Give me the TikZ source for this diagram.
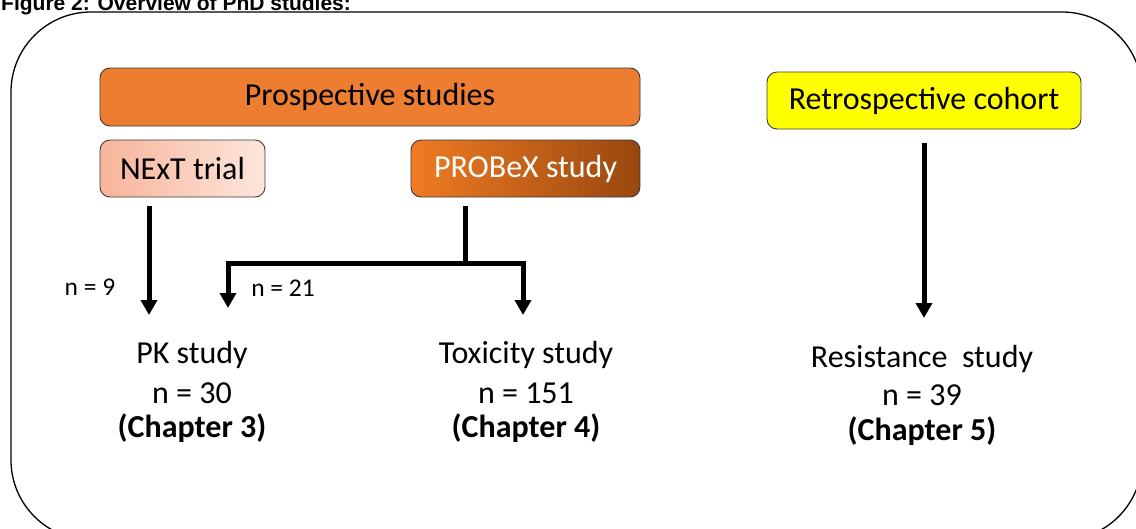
\documentclass[tikz,border=0pt]{standalone}
\usepackage{fontspec}
\setmainfont{Carlito}
\newfontfamily\titlefont{Liberation Sans}
\usetikzlibrary{arrows.meta}
\definecolor{orangeA}{HTML}{ED7D31}
\definecolor{salmonA}{HTML}{F7B49A}
\definecolor{salmonB}{HTML}{FDE6DD}
\definecolor{probA}{HTML}{F07B22}
\definecolor{probB}{HTML}{98470F}
\definecolor{yellowA}{HTML}{FFFF00}
\definecolor{edgeA}{HTML}{3A3A3A}
\tikzset{
  boxbase/.style={draw=edgeA, line width=0.9pt, rounded corners=10pt, inner sep=0pt,
    minimum height=57pt, font=\fontsize{32}{38}\selectfont},
  bigtxt/.style={anchor=base, inner sep=0pt, font=\fontsize{32}{38}\selectfont},
  bigbold/.style={anchor=base, inner sep=0pt, font=\fontsize{32}{38}\selectfont\bfseries},
  smalltxt/.style={inner sep=0pt, font=\fontsize{25.5}{30}\selectfont},
  arr/.style={line width=5pt, -{Triangle[width=16pt,length=15pt]}},
  plainline/.style={line width=5pt}
}
\begin{document}
\begin{tikzpicture}[x=1pt,y=-1pt]
\useasboundingbox (0,0) rectangle (1136,528);
\clip (0,0) rectangle (1136,528);
\fill[white] (0,0) rectangle (1136,528);
% outer frame
\draw[line width=1.3pt, rounded corners=80pt] (11,12) rectangle (1142,540);
% title
\node[anchor=base west, inner sep=0pt, font=\titlefont\bfseries\fontsize{21}{25}\selectfont] (title) at (1,10) {Figure 2: Overview of PhD studies:};
% boxes
\node[boxbase, fill=orangeA, minimum width=540pt, minimum height=58pt] (prosp) at (370,97) {Prospective studies};
\node[boxbase, left color=salmonA, right color=salmonB, minimum width=165pt] (next) at (182.5,168.5) {NExT trial};
\node[boxbase, left color=probA, right color=probB, minimum width=229pt, text=white] (probex) at (525.5,168.5) {PROBeX study};
\node[boxbase, fill=yellowA, minimum width=314pt] (retro) at (924,100.5) {Retrospective cohort};
% result texts
\node[bigtxt] (pk1) at (192,363) {PK study};
\node[bigtxt] (pk2) at (192,403) {n = 30};
\node[bigbold] (pk3) at (192,437) {(Chapter 3)};
\node[bigtxt] (tx1) at (526,363) {Toxicity study};
\node[bigtxt] (tx2) at (526,403) {n = 151};
\node[bigbold] (tx3) at (526,437) {(Chapter 4)};
\node[bigtxt] (rs1) at (922,367) {Resistance\ \ study};
\node[bigtxt] (rs2) at (922,405) {n = 39};
\node[bigbold] (rs3) at (922,440) {(Chapter 5)};
% connector coordinates
\coordinate (nexttop) at (149,206);
\coordinate (nexttip) at (149,315);
\coordinate (probtop) at (465,206);
\coordinate (split) at (465,263);
\coordinate (leftcorner) at (228,263);
\coordinate (rightcorner) at (523,263);
\coordinate (lefttip) at (228,308);
\coordinate (righttip) at (523,315);
\coordinate (retrotop) at (924,143);
\coordinate (retrotip) at (924,318);
% connectors
\draw[arr] (nexttop) -- (nexttip);
\draw[plainline] (probtop) -- (split);
\draw[arr] ([yshift=-2.5pt]rightcorner) -- (righttip);
\draw[plainline] ([xshift=2.5pt]rightcorner) -- ([xshift=-2.5pt]leftcorner);
\draw[arr] ([yshift=-2.5pt]leftcorner) -- (lefttip);
\draw[arr] (retrotop) -- (retrotip);
% labels
\node[smalltxt] (n9) at (90,287) {n = 9};
\node[smalltxt] (n21) at (283,288) {n = 21};
\end{tikzpicture}
\end{document}
